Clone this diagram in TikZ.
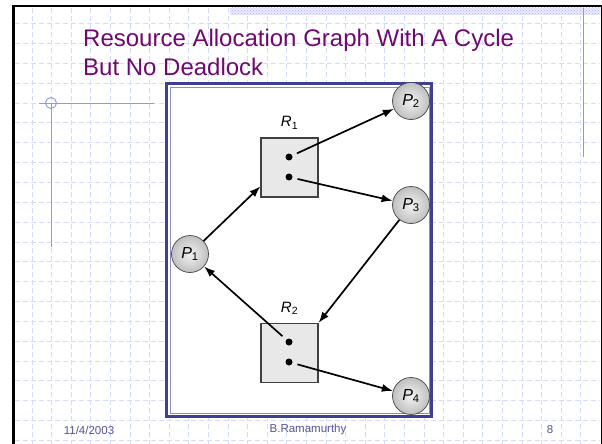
\documentclass[tikz,border=0pt]{standalone}
\usepackage{fontspec}
\setmainfont{Liberation Sans}
\usepackage{xcolor}
\usetikzlibrary{arrows.meta,patterns,positioning}

\definecolor{slidepurple}{RGB}{110,10,110}
\definecolor{footblue}{RGB}{84,84,150}
\definecolor{gridblue}{RGB}{212,220,248}
\definecolor{ruleblue}{RGB}{135,155,230}
\definecolor{framenavy}{RGB}{64,64,145}

\tikzset{
  gridline/.style={gridblue,line width=0.7pt,dash pattern=on 5pt off 3pt},
  process/.style={circle,draw=gray!55!black,line width=0.7pt,shading=radial,
    inner color=gray!10,outer color=gray!50,minimum size=37pt,inner sep=0pt,
    font=\fontsize{16}{16}\selectfont},
  resource/.style={rectangle,draw=gray!50!black,line width=1.2pt,fill=gray!18,
    minimum width=57pt,minimum height=59pt,inner sep=0pt},
  instance/.style={circle,fill=black,inner sep=0pt,minimum size=7pt},
  reslabel/.style={font=\fontsize{15}{15}\selectfont,inner sep=0pt},
  request/.style={-{Latex[length=11pt,width=8pt]},line width=1.7pt},
  footer/.style={text=footblue,font=\fontsize{11.5}{12}\selectfont,inner sep=0pt},
}

\begin{document}
\begin{tikzpicture}[x=1pt,y=-1pt]
  \useasboundingbox (0,0) rectangle (602,444);
  \fill[white] (0,0) rectangle (602,444);

  % slide background grid
  \foreach \i in {0,...,28}
    \draw[gridline] (32+19.6*\i,8) -- (32+19.6*\i,444);
  \foreach \j in {0,...,21}
    \draw[gridline] (15,23.5+19.85*\j) -- (600,23.5+19.85*\j);

  % slide border and ornaments
  \fill[black] (12,5) rectangle (15,444);
  \fill[black] (12,5) rectangle (602,7.5);
  \fill[black] (600.5,5) rectangle (602,444);
  \fill[blue!8] (230,8) rectangle (600,15);
  \fill[pattern=crosshatch dots,pattern color=blue!35] (230,8) rectangle (600,15);
  \draw[ruleblue,line width=1pt] (583,8) -- (583,157);
  \draw[ruleblue,line width=0.9pt] (39,103) -- (154,103);
  \draw[ruleblue,line width=0.9pt] (51,103) circle (5.5);
  \draw[ruleblue,line width=0.9pt] (51,103) -- (51,247);

  % title
  \node[anchor=base west,text=slidepurple,font=\fontsize{24}{28}\selectfont,inner sep=0pt]
    (title1) at (83,47) {Resource Allocation Graph With A Cycle};
  \node[anchor=base west,text=slidepurple,font=\fontsize{24}{28}\selectfont,inner sep=0pt]
    (title2) at (83,75) {But No Deadlock};

  % picture frame
  \draw[framenavy,line width=2.5pt,fill=white] (166.5,83.5) rectangle (431.5,416.5);
  \draw[framenavy!60,line width=0.8pt] (170,87) rectangle (429,413);

  % resources
  \node[resource] (r1) at (289.5,167.5) {};
  \node[resource] (r2) at (289.5,353) {};
  \node[reslabel,above=8pt of r1] (r1label) {\textit{R}\textsubscript{1}};
  \node[reslabel,above=8pt of r2] (r2label) {\textit{R}\textsubscript{2}};
  \node[instance] (r1a) at (289,157) {};
  \node[instance] (r1b) at (289,177) {};
  \node[instance] (r2a) at (289,342) {};
  \node[instance] (r2b) at (289,362) {};

  % processes
  \node[process] (p1) at (190,254) {\textit{P}\textsubscript{1}};
  \node[process] (p2) at (411,101) {\textit{P}\textsubscript{2}};
  \node[process] (p3) at (411,205) {\textit{P}\textsubscript{3}};
  \node[process] (p4) at (411,396) {\textit{P}\textsubscript{4}};

  % edges
  \draw[request] (p1) -- (r1.213);
  \draw[request,shorten <=5pt] (r1a) -- (p2);
  \draw[request,shorten <=5pt] (r1b) -- (p3);
  \draw[request] (p3) -- (r2.north east);
  \draw[request,shorten <=5pt] (r2a) -- (p1);
  \draw[request,shorten <=5pt] (r2b) -- (p4);

  % footer
  \node[footer] (date) at (89,430) {11/4/2003};
  \node[footer] (author) at (308,430) {B.Ramamurthy};
  \node[footer] (page) at (550,430) {8};
\end{tikzpicture}
\end{document}
